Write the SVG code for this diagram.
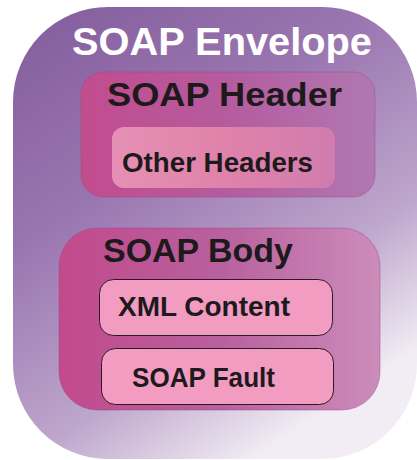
<svg xmlns="http://www.w3.org/2000/svg" width="417" height="460" viewBox="0 0 417 460">
  <defs>
    <linearGradient id="envFill" x1="0" y1="0" x2="0.6" y2="1">
      <stop offset="0" stop-color="#825c9c"/>
      <stop offset="0.4" stop-color="#9a76b0"/>
      <stop offset="0.75" stop-color="#bea6cc"/>
      <stop offset="1" stop-color="#f2edf4"/>
    </linearGradient>
    <linearGradient id="headerFill" x1="0" y1="0" x2="1" y2="0">
      <stop offset="0" stop-color="#c24c8e"/>
      <stop offset="0.5" stop-color="#b45c9e"/>
      <stop offset="1" stop-color="#b078b2"/>
    </linearGradient>
    <linearGradient id="bodyFill" x1="0" y1="0" x2="1" y2="0">
      <stop offset="0" stop-color="#c24a8c"/>
      <stop offset="0.5" stop-color="#b8609e"/>
      <stop offset="1" stop-color="#cc8cba"/>
    </linearGradient>
    <linearGradient id="otherFill" x1="0" y1="0" x2="1" y2="0">
      <stop offset="0" stop-color="#e690b6"/>
      <stop offset="0.5" stop-color="#e082aa"/>
      <stop offset="1" stop-color="#d07cae"/>
    </linearGradient>
    <style>
      .label { font-family: "Liberation Sans", Arial, sans-serif; font-weight: bold; fill: #1e1a1c; }
      .title { font-family: "Liberation Sans", Arial, sans-serif; font-weight: bold; fill: #ffffff; }
      .item { fill: #f29cc2; stroke: #2a1a24; stroke-width: 1; }
      .section { stroke: #9c4a86; stroke-width: 0.8; stroke-opacity: 0.6; }
    </style>
  </defs>

  <g id="envelope">
    <rect x="13" y="7" width="404" height="452" rx="95" ry="95" fill="url(#envFill)"/>
    <text class="title" x="72" y="55" font-size="38" textLength="300" lengthAdjust="spacingAndGlyphs">SOAP Envelope</text>
  </g>

  <g id="header">
    <rect class="section" x="81" y="72" width="294" height="125" rx="22" ry="22" fill="url(#headerFill)"/>
    <text class="label" x="107" y="106" font-size="34" textLength="235" lengthAdjust="spacingAndGlyphs">SOAP Header</text>
  </g>

  <g id="other-headers">
    <rect x="112" y="127" width="223" height="61" rx="12" ry="12" fill="url(#otherFill)"/>
    <text class="label" x="122" y="172" font-size="28" textLength="191" lengthAdjust="spacingAndGlyphs">Other Headers</text>
  </g>

  <g id="body">
    <rect class="section" x="59" y="228" width="321" height="182" rx="38" ry="38" fill="url(#bodyFill)"/>
    <text class="label" x="103" y="262" font-size="34" textLength="190" lengthAdjust="spacingAndGlyphs">SOAP Body</text>
  </g>

  <g id="xml-content">
    <rect class="item" x="99.5" y="279.5" width="233" height="56" rx="14" ry="14"/>
    <text class="label" x="118" y="316" font-size="28" textLength="172" lengthAdjust="spacingAndGlyphs">XML Content</text>
  </g>

  <g id="soap-fault">
    <rect class="item" x="101.5" y="348.5" width="232" height="56" rx="14" ry="14"/>
    <text class="label" x="132" y="387" font-size="28" textLength="143" lengthAdjust="spacingAndGlyphs">SOAP Fault</text>
  </g>

  <g id="connectors"></g>
</svg>
